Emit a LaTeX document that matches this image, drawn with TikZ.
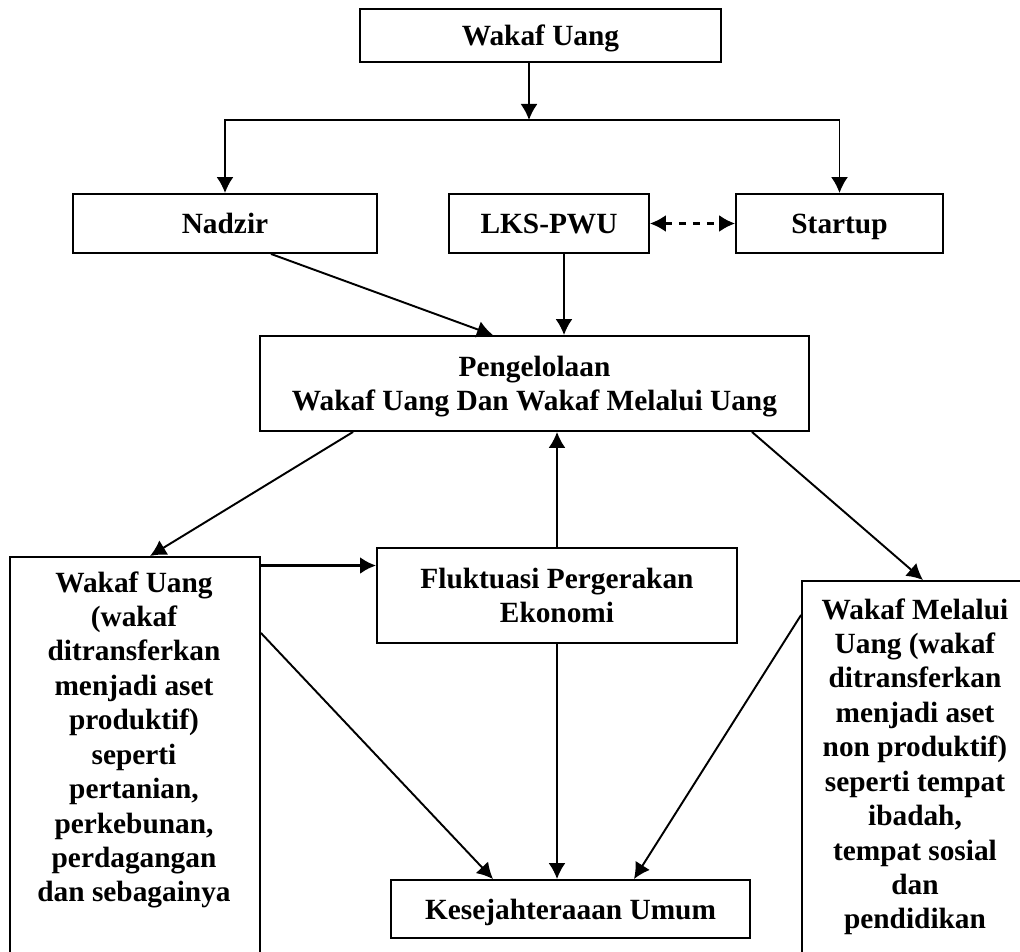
\documentclass[tikz,border=0pt]{standalone}
\usepackage{fontspec}
\setmainfont{Liberation Serif}
\usetikzlibrary{arrows.meta}

\begin{document}
\begin{tikzpicture}[x=0.02cm,y=-0.02cm,>={Latex[length=3.2mm,width=3.4mm]},
  schrift/.style={font=\fontsize{16.7}{19.6}\selectfont\bfseries},
  kotak/.style={draw,line width=1.1pt,align=center,inner sep=0pt,text depth=0pt,schrift},
  teks/.style={align=center,inner sep=0pt,schrift},
  panah/.style={->,line width=1.1pt}]
\useasboundingbox (0,0) rectangle (1020,952);
%
% --- Oben: Wakaf Uang und die drei Traeger ---
\node[kotak,minimum width=7.22cm,minimum height=1.06cm] (wakaf) at (540.5,35.5) {Wakaf Uang};
\node[kotak,minimum width=6.08cm,minimum height=1.18cm] (nadzir) at (225,223.5) {Nadzir};
\node[kotak,minimum width=4cm,minimum height=1.18cm] (lks) at (549,223.5) {LKS-PWU};
\node[kotak,minimum width=4.14cm,minimum height=1.18cm] (startup) at (839.5,223.5) {Startup};
% Verzweigung
\coordinate (cabang) at (529,120);
\draw[panah] (cabang |- wakaf.south) -- (cabang);
\draw[panah] (cabang) -| (nadzir.north);
\draw[panah] (cabang) -| (startup.north);
\draw[<->,line width=1.3pt,dash pattern=on 4pt off 4pt] (lks.east) -- (startup.west);
%
% --- Mitte: Pengelolaan ---
\node[kotak,minimum width=10.98cm,minimum height=1.9cm] (kelola) at (534.5,383.5)
  {Pengelolaan\\Wakaf Uang Dan Wakaf Melalui Uang};
\draw[panah] ([xshift=0.92cm]nadzir.south) -- ([xshift=-0.83cm]kelola.north);
\draw[panah] ([xshift=0.3cm]lks.south) -- ([xshift=0.3cm]lks.south |- kelola.north);
%
% --- Unten: Kaesten links, Mitte, rechts ---
\node[draw,line width=1.1pt,minimum width=5cm,minimum height=8.28cm,anchor=north] (produktif) at (135,556) {};
\node[teks,anchor=north] (produktifTeks) at (134,571)
  {Wakaf Uang\\(wakaf\\ditransferkan\\menjadi aset\\produktif)\\seperti\\pertanian,\\perkebunan,\\perdagangan\\dan sebagainya};
\node[draw,line width=1.1pt,minimum width=4.56cm,minimum height=8cm,anchor=north] (nonproduktif) at (916,580) {};
\node[teks,anchor=north] (nonproduktifTeks) at (915,598)
  {Wakaf Melalui\\Uang (wakaf\\ditransferkan\\menjadi aset\\non produktif)\\seperti tempat\\ibadah,\\tempat sosial\\dan\\pendidikan};
\node[kotak,minimum width=7.2cm,minimum height=1.9cm] (fluktuasi) at (557,595.5)
  {Fluktuasi Pergerakan\\Ekonomi};
\node[kotak,minimum width=7.18cm,minimum height=1.16cm] (sejahtera) at (570.5,909) {Kesejahteraaan Umum};
%
% Pfeile
\draw[panah] ([xshift=-3.63cm]kelola.south) -- ([xshift=0.3cm]produktif.north);
\draw[panah] ([xshift=4.35cm]kelola.south) -- ([xshift=0.14cm]nonproduktif.north);
\coordinate (masuk) at ([yshift=0.6cm]fluktuasi.west);
\draw[panah,line width=1.7pt] (masuk -| produktif.east) -- (masuk);
\draw[panah] (fluktuasi.north) -- (fluktuasi.north |- kelola.south);
\draw[panah] ([yshift=-1.54cm]produktif.north east) -- ([xshift=-1.55cm]sejahtera.north);
\draw[panah] (fluktuasi.south) -- (fluktuasi.south |- sejahtera.north);
\draw[panah] ([yshift=-0.7cm]nonproduktif.north west) -- ([xshift=1.27cm]sejahtera.north);
\end{tikzpicture}
\end{document}
